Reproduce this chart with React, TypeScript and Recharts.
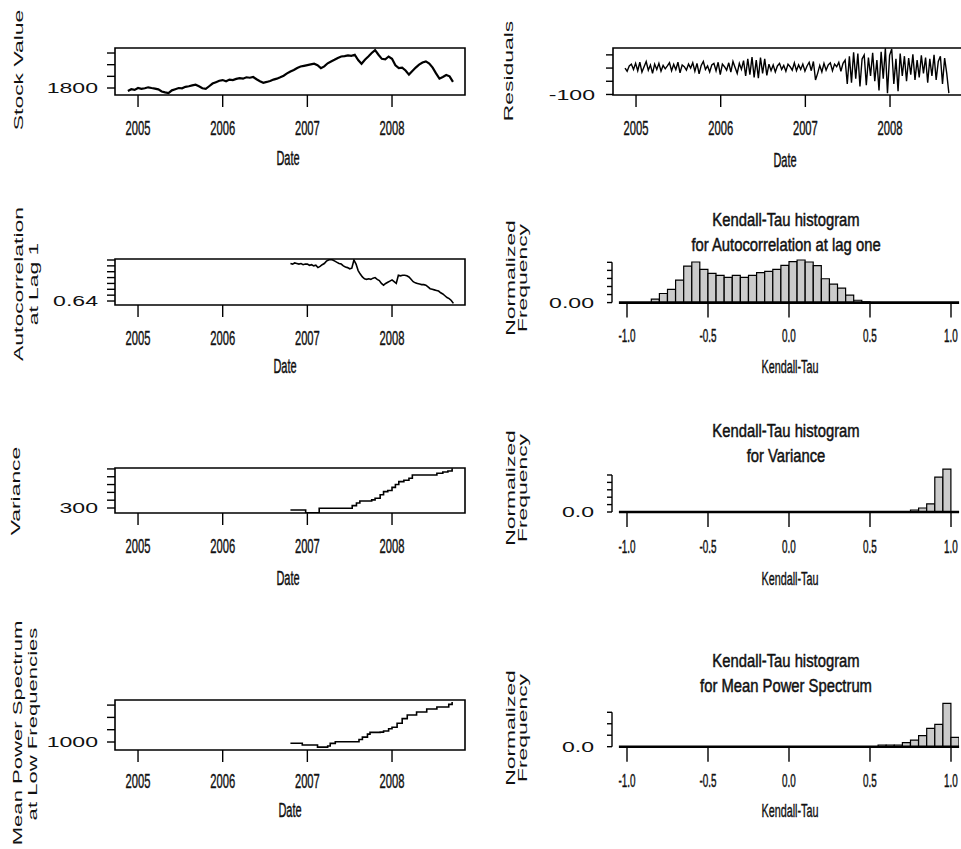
import React from "react";
import {
  Bar,
  BarChart,
  Label,
  Line,
  LineChart,
  ReferenceArea,
  ReferenceLine,
  XAxis,
  YAxis,
} from "recharts";

const FONT = "'Liberation Sans', Arial, Helvetica, sans-serif";

// shared time axis (decimal years)
const yearTicks = [2005, 2006, 2007, 2008];
const timeDomain: [number, number] = [2004.728, 2008.862];

// stock value, roughly every 2 weeks
const stockStart = 2004.88;
const stockStep = 0.04;
const stockValues = [
  1775, 1790, 1784, 1800, 1792, 1798, 1806, 1800, 1795, 1788,
  1770, 1762, 1756, 1780, 1790, 1800, 1797, 1810, 1815, 1822,
  1828, 1815, 1798, 1792, 1815, 1838, 1850, 1862, 1868, 1858,
  1872, 1868, 1878, 1884, 1880, 1892, 1888, 1894, 1875, 1858,
  1845, 1852, 1860, 1872, 1880, 1892, 1905, 1925, 1942, 1955,
  1972, 1984, 1990, 1996, 2002, 2008, 1995, 1970, 1985, 2012,
  2028, 2042, 2058, 2070, 2074, 2080, 2076, 2085, 2040, 2008,
  2042, 2070, 2100, 2125, 2085, 2050, 2045, 2070, 2050, 1995,
  1970, 1975, 1950, 1915, 1945, 1975, 2000, 2018, 2028, 2010,
  1975, 1925, 1880, 1895, 1912, 1900, 1852,
];

// residuals, roughly weekly
const residualStart = 2004.87;
const residualStep = 0.025;
const residualValues = [
  0, -12, 8, 15, -5, 18, -10, 22, -15, 5, 25, -8, 12, -20, 15, -5, 18, -12, 10, -3,
  8, 20, -10, 14, -6, 22, -18, 12, 5, -8, 15, 0, 20, -12, 18, -22, 10, 25, -5, 8,
  -15, 12, 18, -10, 22, -25, 15, 5, -8, 20, -15, 25, 2, -20, 18, -5, 28,
  -30, 35, -25, 42, -35, 30, -38, 40, -20, 35, -28, 15,
  -10, 12, -15, 8, 18, -5, 10, -12, 15, 5, -8, 20, -10, 12, -5, 15, -12, 8, 22, -10,
  25, -45, -20, 10, -15, 18, -8, 12, 20, -10, 15, 5, 22, -12, 18, 30,
  -60, 45, -55, 60, -40, 55, -70, 35, 50, -65, 40, -30, 58, -50, 30, -85, 62, -40,
  75, -95, 48, 72, -60, 35, -88, 55, -30, 45, -50, 38, -25, 52, -45, 30, -35, 48,
  -20, 40, -55, 35, -30, 50, -45, 25, 45, -60, 38, -20, -95,
];

// autocorrelation at lag 1
const acStart = 2006.8;
const acStep = 0.025;
const acValues = [
  0.704, 0.703, 0.705, 0.704, 0.703, 0.704, 0.702, 0.703, 0.703, 0.701,
  0.702, 0.7, 0.701, 0.697, 0.699, 0.702, 0.704, 0.708, 0.71, 0.711,
  0.71, 0.708, 0.706, 0.704, 0.703, 0.7, 0.698, 0.697, 0.695, 0.696,
  0.71, 0.703, 0.692, 0.686, 0.681, 0.678, 0.677, 0.678, 0.677, 0.679,
  0.68, 0.677, 0.675, 0.67, 0.667, 0.67, 0.672, 0.674, 0.676, 0.673,
  0.67, 0.684, 0.683, 0.684, 0.684, 0.683, 0.681, 0.677, 0.673, 0.671,
  0.67, 0.669, 0.668, 0.668, 0.667, 0.664, 0.661, 0.66, 0.659, 0.658,
  0.657, 0.654, 0.652, 0.649, 0.646, 0.644, 0.641, 0.636,
];

// variance
const varianceDates = [
  2006.8, 2006.98, 2007.14, 2007.53, 2007.58, 2007.62, 2007.76, 2007.8, 2007.86, 2007.9,
  2007.95, 2008.0, 2008.04, 2008.08, 2008.14, 2008.2, 2008.24, 2008.53, 2008.6, 2008.66, 2008.71,
];
const varianceValues = [
  287, 270, 298, 315, 332, 345, 352, 362, 385, 405,
  412, 432, 450, 469, 478, 490, 511, 522, 530, 537, 554,
];

// mean power spectrum at low frequencies
const mpsDates = [
  2006.8, 2006.94, 2007.12, 2007.24, 2007.27, 2007.33, 2007.61, 2007.65, 2007.71, 2007.74, 2007.86,
  2007.9, 2007.96, 2008.0, 2008.06, 2008.12, 2008.18, 2008.29, 2008.41, 2008.53, 2008.67, 2008.71,
];
const mpsValues = [
  950, 880, 790, 840, 945, 1010, 1100, 1200, 1320, 1390, 1400,
  1450, 1540, 1600, 1760, 1950, 2100, 2220, 2340, 2420, 2530, 2630,
];

// Kendall-Tau histograms (bin centres, width 0.05)
const tauTicks = [-1, -0.5, 0, 0.5, 1];
const tauDomain: [number, number] = [-1.0926, 1.0494];

const acBins = [
  -0.825, -0.775, -0.725, -0.675, -0.625, -0.575, -0.525, -0.475, -0.425, -0.375,
  -0.325, -0.275, -0.225, -0.175, -0.125, -0.075, -0.025, 0.025, 0.075, 0.125,
  0.175, 0.225, 0.275, 0.325, 0.375, 0.425, 0.475,
];
const acFreq = [
  0.0042, 0.0113, 0.0163, 0.028, 0.0454, 0.0504, 0.0413, 0.0363, 0.0338, 0.0313,
  0.0338, 0.0313, 0.0338, 0.0371, 0.0388, 0.0413, 0.0463, 0.0508, 0.0529, 0.0504,
  0.0458, 0.0296, 0.0229, 0.0179, 0.0092, 0.0029, 0.0008,
];

const varBins = [0.775, 0.825, 0.875, 0.925, 0.975];
const varFreq = [0.027, 0.054, 0.11, 0.47, 0.58];

const mpsBins = [0.575, 0.625, 0.675, 0.725, 0.775, 0.825, 0.875, 0.925, 0.975, 1.025];
const mpsFreq = [0.015, 0.015, 0.015, 0.035, 0.058, 0.096, 0.16, 0.195, 0.378, 0.081];

type Pt = { t: number; v: number };

function stepSeries(start: number, step: number, values: number[]): Pt[] {
  return values.map((v, i) => ({ t: +(start + i * step).toFixed(4), v }));
}

function datedSeries(dates: number[], values: number[]): Pt[] {
  return dates.map((t, i) => ({ t, v: values[i] }));
}

function binRows(bins: number[], freq: number[]) {
  return bins.map((x, i) => ({ x, f: freq[i] }));
}

interface StretchProps {
  x: number;
  y: number;
  text: string;
  size: number;
  sx?: number;
  rotate?: number;
  anchor?: "start" | "middle" | "end";
  dy?: string;
  heavy?: number;
}

function StretchText({ x, y, text, size, sx = 1, rotate = 0, anchor = "middle", dy, heavy = 0 }: StretchProps) {
  return (
    <text
      transform={`translate(${x},${y}) rotate(${rotate}) scale(${sx},1)`}
      textAnchor={anchor}
      dy={dy}
      fontSize={size}
      fontFamily={FONT}
      fill="#111"
      stroke={heavy ? "#111" : undefined}
      strokeWidth={heavy || undefined}
    >
      {text}
    </text>
  );
}

const tickStyle = { stroke: "#000", strokeWidth: 1.4 };

interface TimePanelProps {
  left: number;
  top: number;
  width: number;
  height: number;
  plotLeft: number;
  plotRight: number;
  plotTop: number;
  plotBottom: number;
  data: Pt[];
  yDomain: [number, number];
  yTicks: number[];
  yTickText: string;
  yTickSize: number;
  yTickMargin: number;
  yTitle: string[];
  yTitleX: number[];
  yTitleY: number[];
  yTitleScale?: number;
  tickY: number;
  dateY: number;
  dateX: number;
  step?: boolean;
  lineWidth?: number;
}

function TimePanel(p: TimePanelProps) {
  const xAxisHeight = 40;
  return (
    <div style={{ position: "absolute", left: p.left, top: p.top, width: p.width, height: p.height }}>
      <LineChart
        width={p.width}
        height={p.height}
        data={p.data}
        margin={{
          top: p.plotTop,
          right: p.width - p.plotRight,
          bottom: p.height - p.plotBottom - xAxisHeight,
          left: 0,
        }}
      >
        <XAxis
          dataKey="t"
          type="number"
          domain={timeDomain}
          ticks={yearTicks}
          interval={0}
          allowDataOverflow
          axisLine={false}
          tickSize={12}
          tickLine={tickStyle}
          height={xAxisHeight}
          tick={(t: any) => (
            <StretchText x={t.x} y={p.tickY} text={String(t.payload.value)} size={20} sx={0.56} heavy={0.45} />
          )}
        >
          <Label
            content={() => <StretchText x={p.dateX} y={p.dateY} text="Date" size={20} sx={0.55} heavy={0.45} />}
          />
        </XAxis>
        <YAxis
          type="number"
          domain={p.yDomain}
          ticks={p.yTicks}
          interval={0}
          allowDataOverflow
          axisLine={false}
          width={p.plotLeft}
          tickSize={p.yTickSize}
          tickMargin={p.yTickMargin}
          tickLine={tickStyle}
          tick={(t: any) =>
            t.payload.value === p.yTicks[0] ? (
              <StretchText x={t.x} y={t.y} text={p.yTickText} size={14} sx={1.65} anchor="end" dy="0.36em" />
            ) : (
              <g />
            )
          }
        >
          <Label
            content={() => (
              <g>
                {p.yTitle.map((s, i) => (
                  <StretchText
                    key={s}
                    x={p.yTitleX[i]}
                    y={p.yTitleY[i]}
                    text={s}
                    size={13}
                    sx={p.yTitleScale ?? 1.76}
                    rotate={-90}
                  />
                ))}
              </g>
            )}
          />
        </YAxis>
        <ReferenceArea
          x1={timeDomain[0]}
          x2={timeDomain[1]}
          y1={p.yDomain[0]}
          y2={p.yDomain[1]}
          fill="none"
          fillOpacity={0}
          stroke="#000"
          strokeWidth={1.6}
          ifOverflow="visible"
        />
        <Line
          dataKey="v"
          type={p.step ? "stepAfter" : "linear"}
          stroke="#000"
          strokeWidth={p.lineWidth ?? 1.6}
          dot={false}
          activeDot={false}
          isAnimationActive={false}
        />
      </LineChart>
    </div>
  );
}

interface HistPanelProps {
  top: number;
  height: number;
  plotTop: number;
  plotBottom: number;
  rows: { x: number; f: number }[];
  yTop: number;
  yTicks: number[];
  yTickText: string;
  titles: string[];
  titleY: number[];
  yTitleY: number;
  tickY: number;
  tauY: number;
}

function HistPanel(p: HistPanelProps) {
  const left = 480;
  const width = 481;
  const plotLeft = 132;
  const plotRight = 479;
  const xAxisHeight = 40;
  const lastTick = p.yTicks[p.yTicks.length - 1];
  return (
    <div style={{ position: "absolute", left, top: p.top, width, height: p.height }}>
      <BarChart
        width={width}
        height={p.height}
        data={p.rows}
        barCategoryGap={0}
        margin={{
          top: p.plotTop,
          right: width - plotRight,
          bottom: p.height - p.plotBottom - xAxisHeight,
          left: 0,
        }}
      >
        <XAxis
          dataKey="x"
          type="number"
          domain={tauDomain}
          ticks={tauTicks}
          interval={0}
          allowDataOverflow
          axisLine={false}
          tickSize={15}
          tickLine={tickStyle}
          height={xAxisHeight}
          tick={(t: any) => (
            <StretchText
              x={t.x}
              y={p.tickY}
              text={Number(t.payload.value).toFixed(1)}
              size={18}
              sx={0.55}
              heavy={0.45}
            />
          )}
        >
          <Label
            content={() => (
              <g>
                {p.titles.map((s, i) => (
                  <StretchText key={s} x={306} y={p.titleY[i]} text={s} size={19} sx={0.78} heavy={0.5} />
                ))}
                <StretchText x={310} y={p.tauY} text="Kendall-Tau" size={18} sx={0.6} heavy={0.4} />
              </g>
            )}
          />
        </XAxis>
        <YAxis
          type="number"
          domain={[0, p.yTop]}
          ticks={p.yTicks}
          interval={0}
          allowDataOverflow
          axisLine={false}
          width={plotLeft}
          tickSize={5}
          tickMargin={13}
          tickLine={tickStyle}
          tick={(t: any) =>
            t.payload.value === 0 ? (
              <StretchText x={t.x} y={t.y} text={p.yTickText} size={14} sx={1.65} anchor="end" dy="0.36em" />
            ) : (
              <g />
            )
          }
        >
          <Label
            content={() => (
              <g>
                <StretchText x={35} y={p.yTitleY} text="Normalized" size={13} sx={1.76} rotate={-90} />
                <StretchText x={47} y={p.yTitleY} text="Frequency" size={13} sx={1.76} rotate={-90} />
              </g>
            )}
          />
        </YAxis>
        <Bar
          dataKey="f"
          fill="#cbcbcb"
          stroke="#000"
          strokeWidth={1.2}
          barSize={8}
          isAnimationActive={false}
        />
        <ReferenceLine
          segment={[
            { x: -1.05, y: 0 },
            { x: 1.05, y: 0 },
          ]}
          stroke="#000"
          strokeWidth={2.6}
          ifOverflow="visible"
        />
        <ReferenceLine
          segment={[
            { x: tauDomain[0], y: 0 },
            { x: tauDomain[0], y: lastTick },
          ]}
          stroke="#000"
          strokeWidth={1.4}
          ifOverflow="visible"
        />
      </BarChart>
    </div>
  );
}

export default function App() {
  return (
    <div
      style={{
        position: "absolute",
        left: 0,
        top: 0,
        width: 961,
        height: 849,
        overflow: "hidden",
        background: "#fff",
      }}
    >
      <TimePanel
        left={0}
        top={0}
        width={480}
        height={200}
        plotLeft={115}
        plotRight={465}
        plotTop={48}
        plotBottom={95}
        data={stepSeries(stockStart, stockStep, stockValues)}
        yDomain={[1740, 2143]}
        yTicks={[1800, 1900, 2000, 2100]}
        yTickText="1800"
        yTickSize={8}
        yTickMargin={9}
        yTitle={["Stock Value"]}
        yTitleX={[23]}
        yTitleY={[70]}
        tickY={135}
        dateY={165}
        dateX={288}
        lineWidth={2.2}
      />
      <TimePanel
        left={480}
        top={0}
        width={484}
        height={200}
        plotLeft={133}
        plotRight={483}
        plotTop={48}
        plotBottom={95}
        data={stepSeries(residualStart, residualStep, residualValues)}
        yDomain={[-102, 76]}
        yTicks={[-100, -50, 0, 50]}
        yTickText="-100"
        yTickSize={7}
        yTickMargin={11}
        yTitle={["Residuals"]}
        yTitleX={[33]}
        yTitleY={[71]}
        tickY={135}
        dateY={167}
        dateX={305}
        lineWidth={1.4}
      />
      <TimePanel
        left={0}
        top={200}
        width={480}
        height={200}
        plotLeft={115}
        plotRight={465}
        plotTop={59}
        plotBottom={105}
        data={stepSeries(acStart, acStep, acValues)}
        yDomain={[0.6332, 0.7117]}
        yTicks={[0.64, 0.65, 0.66, 0.67, 0.68, 0.69, 0.7, 0.71]}
        yTickText="0.64"
        yTickSize={8}
        yTickMargin={9}
        yTitle={["Autocorrelation", "at Lag 1"]}
        yTitleX={[23, 38]}
        yTitleY={[84, 84]}
        tickY={145}
        dateY={173}
        dateX={285}
      />
      <HistPanel
        top={200}
        height={200}
        plotTop={55}
        plotBottom={102.6}
        rows={binRows(acBins, acFreq)}
        yTop={0.0591}
        yTicks={[0, 0.01, 0.02, 0.03, 0.04, 0.05]}
        yTickText="0.00"
        titles={["Kendall-Tau histogram", "for Autocorrelation at lag one"]}
        titleY={[26, 51]}
        yTitleY={78}
        tickY={142}
        tauY={173}
      />
      <TimePanel
        left={0}
        top={400}
        width={480}
        height={200}
        plotLeft={115}
        plotRight={465}
        plotTop={68}
        plotBottom={113}
        data={datedSeries(varianceDates, varianceValues)}
        yDomain={[268, 556]}
        yTicks={[300, 350, 400, 450, 500, 550]}
        yTickText="300"
        yTickSize={8}
        yTickMargin={9}
        yTitle={["Variance"]}
        yTitleX={[20]}
        yTitleY={[91]}
        tickY={153}
        dateY={185}
        dateX={288}
        step
      />
      <HistPanel
        top={400}
        height={200}
        plotTop={65}
        plotBottom={112}
        rows={binRows(varBins, varFreq)}
        yTop={0.635}
        yTicks={[0, 0.1, 0.2, 0.3, 0.4, 0.5]}
        yTickText="0.0"
        titles={["Kendall-Tau histogram", "for Variance"]}
        titleY={[37, 62]}
        yTitleY={88}
        tickY={153}
        tauY={185}
      />
      <TimePanel
        left={0}
        top={617}
        width={480}
        height={232}
        plotLeft={115}
        plotRight={465}
        plotTop={83}
        plotBottom={133}
        data={datedSeries(mpsDates, mpsValues)}
        yDomain={[675, 2707]}
        yTicks={[1000, 1500, 2000, 2500]}
        yTickText="1000"
        yTickSize={8}
        yTickMargin={9}
        yTitle={["Mean Power Spectrum", "at Low Frequencies"]}
        yTitleX={[22, 37]}
        yTitleY={[116, 107]}
        yTitleScale={1.7}
        tickY={171}
        dateY={200}
        dateX={290}
        step
      />
      <HistPanel
        top={617}
        height={232}
        plotTop={83}
        plotBottom={129.7}
        rows={binRows(mpsBins, mpsFreq)}
        yTop={0.407}
        yTicks={[0, 0.1, 0.2, 0.3]}
        yTickText="0.0"
        titles={["Kendall-Tau histogram", "for Mean Power Spectrum"]}
        titleY={[50, 75]}
        yTitleY={111}
        tickY={170}
        tauY={200}
      />
    </div>
  );
}
